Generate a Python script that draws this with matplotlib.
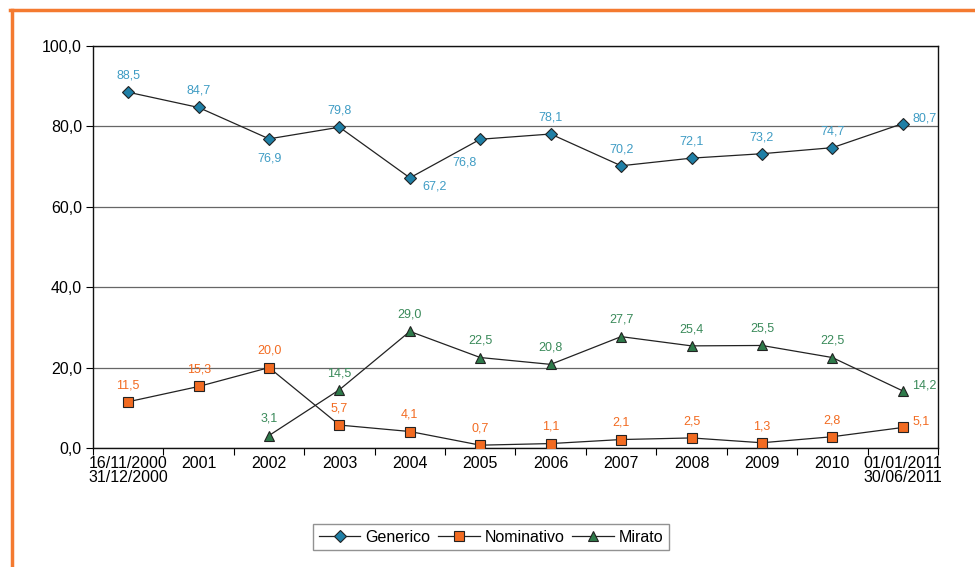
import matplotlib
matplotlib.use('Agg')
import numpy as np
import matplotlib.pyplot as plt
from matplotlib.lines import Line2D

categories = ['16/11/2000\n31/12/2000', '2001', '2002', '2003', '2004', '2005',
              '2006', '2007', '2008', '2009', '2010', '01/01/2011\n30/06/2011']
generico = [88.5, 84.7, 76.9, 79.8, 67.2, 76.8, 78.1, 70.2, 72.1, 73.2, 74.7, 80.7]
nominativo = [11.5, 15.3, 20.0, 5.7, 4.1, 0.7, 1.1, 2.1, 2.5, 1.3, 2.8, 5.1]
mirato = [None, None, 3.1, 14.5, 29.0, 22.5, 20.8, 27.7, 25.4, 25.5, 22.5, 14.2]

# label placement per point: 'a' above, 'b' below, 'r' right, 'br' below-right, 'bl' below-left
gen_pos = ['a', 'a', 'b', 'a', 'br', 'bl', 'a', 'a', 'a', 'a', 'a', 'r']
nom_pos = ['a'] * 11 + ['r']
mir_pos = ['a'] * 11 + ['r']

plt.rcParams['font.family'] = ['Liberation Sans', 'DejaVu Sans']

fig = plt.figure(figsize=(9.75, 5.67), dpi=100)
ax = fig.add_axes([0.0954, 0.2099, 0.8666, 0.709])

x = np.arange(len(categories))
series = [
    ('Generico', generico, 'D', '#1f7fa6', '#3f9cc4', gen_pos, 6.5),
    ('Nominativo', nominativo, 's', '#f26b21', '#f26b21', nom_pos, 7),
    ('Mirato', mirato, '^', '#2e7a4a', '#3a8a5a', mir_pos, 7.5),
]

offsets = {'a': (0, 12, 'center', 'center'),
           'b': (0, -14, 'center', 'center'),
           'r': (7, 4, 'left', 'center'),
           'br': (9, -6, 'left', 'center'),
           'bl': (-3, -17, 'right', 'center')}

for name, vals, mk, fc, tc, pos, ms in series:
    xs = [xi for xi, v in zip(x, vals) if v is not None]
    ys = [v for v in vals if v is not None]
    ps = [p for p, v in zip(pos, vals) if v is not None]
    ax.plot(xs, ys, color='#222222', lw=0.9, marker=mk, markersize=ms,
            markerfacecolor=fc, markeredgecolor='#222222', markeredgewidth=0.8,
            label=name, zorder=3)
    for xi, yi, p in zip(xs, ys, ps):
        dx, dy, ha, va = offsets[p]
        ax.annotate('{:.1f}'.format(yi).replace('.', ','), (xi, yi),
                    xytext=(dx, dy), textcoords='offset points',
                    ha=ha, va=va, color=tc, fontsize=9)

ax.set_xlim(-0.5, len(categories) - 0.5)
ax.set_ylim(0, 100)
ax.set_yticks(np.arange(0, 101, 20))
ax.set_yticklabels(['{:.1f}'.format(v).replace('.', ',') for v in np.arange(0, 101, 20)],
                   fontsize=11.5)
ax.set_xticks(x)
ax.set_xticklabels(categories, fontsize=11.5, linespacing=0.9)
ax.set_xticks(np.arange(-0.5, len(categories)), minor=True)
ax.tick_params(axis='x', which='major', length=0, pad=6)
ax.tick_params(axis='x', which='minor', length=5, width=0.8)
ax.tick_params(axis='y', length=5, width=0.8, pad=3)
ax.yaxis.grid(True, color='#666666', lw=0.9)
ax.set_axisbelow(True)
for s in ax.spines.values():
    s.set_linewidth(1.0)
    s.set_color('#111111')

ax.legend(loc='upper center', bbox_to_anchor=(0.471, -0.17), ncol=3,
          frameon=True, fancybox=False, edgecolor='#777777', fontsize=11.5,
          handlelength=2.6, columnspacing=0.5, handletextpad=0.3,
          borderpad=0.35)

# orange frame (top and left edges visible)
fig.add_artist(Line2D([0.0103, 1.0], [0.982, 0.982], color='#f47a30', lw=2.5,
                      transform=fig.transFigure))
fig.add_artist(Line2D([0.0123, 0.0123], [0.0, 0.982], color='#f47a30', lw=2.5,
                      transform=fig.transFigure))

plt.savefig('out.png', dpi=100)
